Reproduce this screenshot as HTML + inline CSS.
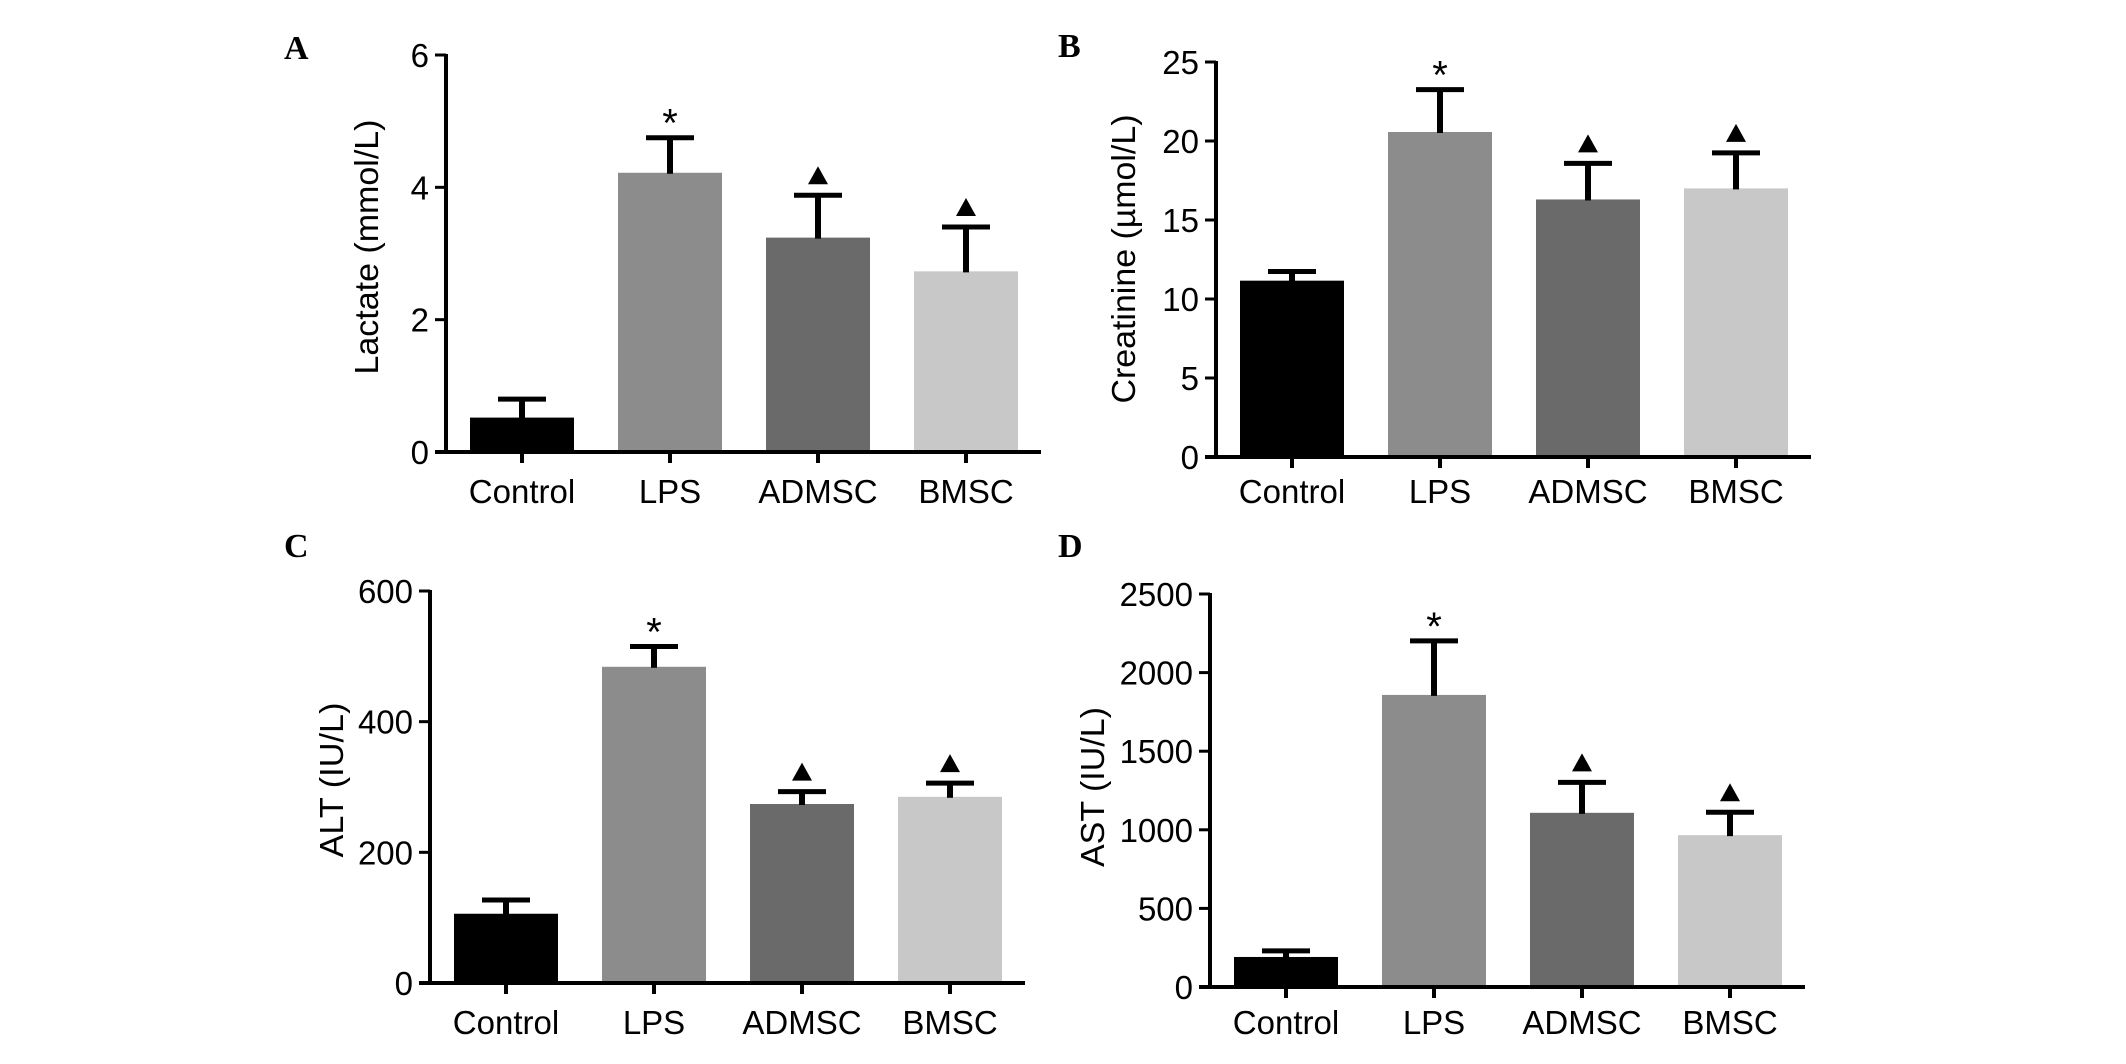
<!DOCTYPE html>
<html><head><meta charset="utf-8"><style>html,body{margin:0;padding:0;background:#fff;overflow:hidden}svg{display:block}</style></head>
<body>
<svg id="fig" xmlns="http://www.w3.org/2000/svg" width="2126" height="1064" viewBox="0 0 2126 1064"></svg>
<script>
const categories = ["Control","LPS","ADMSC","BMSC"];
const lactateMeans = [0.52,4.22,3.24,2.73];
const lactateErr = [0.80,4.75,3.88,3.40];
const lactateTicks = [0,2,4,6];
const creatMeans = [11.16,20.57,16.3,17.0];
const creatErr = [11.74,23.25,18.58,19.25];
const creatTicks = [0,5,10,15,20,25];
const altMeans = [106,484,274,285];
const altErr = [127,515,293,306];
const altTicks = [0,200,400,600];
const astMeans = [191,1858,1108,966];
const astErr = [230,2202,1302,1112];
const astTicks = [0,500,1000,1500,2000,2500];
const markers = ["","*","tri","tri"];
const colors = ["#000000","#8c8c8c","#6a6a6a","#c8c8c8"];

const NS="http://www.w3.org/2000/svg";
const svg=document.getElementById('fig');
function mk(tag,attrs,parent){const e=document.createElementNS(NS,tag);for(const k in attrs)e.setAttribute(k,attrs[k]);(parent||svg).appendChild(e);return e;}

const panels=[
 {id:'a',letter:'A',lx:284,ly:59,ax:446,y0:452,yt:55,max:6,means:lactateMeans,err:lactateErr,ticks:lactateTicks,title:'Lactate (mmol/L)',tx:378,ty:247,tl:255,cy:503},
 {id:'b',letter:'B',lx:1058,ly:57,ax:1216,y0:457,yt:62,max:25,means:creatMeans,err:creatErr,ticks:creatTicks,title:'Creatinine (\u00b5mol/L)',tx:1135,ty:259,tl:289,cy:503},
 {id:'c',letter:'C',lx:284,ly:557,ax:430,y0:983,yt:591,max:600,means:altMeans,err:altErr,ticks:altTicks,title:'ALT (IU/L)',tx:343,ty:780,tl:155,cy:1034},
 {id:'d',letter:'D',lx:1058,ly:557,ax:1210,y0:987,yt:594,max:2500,means:astMeans,err:astErr,ticks:astTicks,title:'AST (IU/L)',tx:1104,ty:787,tl:160,cy:1034}
];

panels.forEach(p=>{
  const g=mk('g',{});
  
  
  const yS=v=>p.y0-(v/p.max)*(p.y0-p.yt);
  const xC=i=>p.ax+76+i*148;
  const L=mk('text',{x:p.lx,y:p.ly,'font-family':'Liberation Serif, serif','font-weight':'bold','font-size':'34'},g);
  L.textContent=p.letter;
  
  
  p.means.forEach((m,i)=>{
    const b=mk('rect',{x:xC(i)-52,y:yS(m),width:104,height:p.y0-yS(m),fill:colors[i]},g);
    
    
    const e=mk('g',{},g);
    
    
    mk('line',{x1:xC(i),x2:xC(i),y1:yS(m)+1,y2:yS(p.err[i]),stroke:'#000','stroke-width':6},e);
    mk('line',{x1:xC(i)-24,x2:xC(i)+24,y1:yS(p.err[i]),y2:yS(p.err[i]),stroke:'#000','stroke-width':5},e);
    const top=yS(p.err[i])-3;
    if(markers[i]==='*'){
      const s=mk('text',{x:xC(i),y:top+2,'text-anchor':'middle','font-family':'Liberation Sans, sans-serif','font-size':'40'},g);
      s.textContent='*';
      
      
    } else if(markers[i]==='tri'){
      const t=mk('polygon',{points:`${xC(i)},${top-26} ${xC(i)-10},${top-8} ${xC(i)+10},${top-8}`,fill:'#000'},g);
      
      
    }
  });
  const ya=mk('line',{x1:p.ax,x2:p.ax,y1:p.yt-1,y2:p.y0+2,stroke:'#000','stroke-width':4},g);
  
  
  const xa=mk('line',{x1:p.ax-11,x2:p.ax+595,y1:p.y0,y2:p.y0,stroke:'#000','stroke-width':4},g);
  
  
  p.ticks.forEach(t=>{
    mk('line',{x1:p.ax-11,x2:p.ax,y1:yS(t),y2:yS(t),stroke:'#000','stroke-width':3},g);
    const tx=mk('text',{x:p.ax-17,y:yS(t)+12,'text-anchor':'end','font-family':'Liberation Sans, sans-serif','font-size':'33'},g);
    tx.textContent=t;
    
    
  });
  categories.forEach((c,i)=>{
    mk('line',{x1:xC(i),x2:xC(i),y1:p.y0,y2:p.y0+11,stroke:'#000','stroke-width':4},g);
    const tx=mk('text',{x:xC(i),y:p.cy,'text-anchor':'middle','font-family':'Liberation Sans, sans-serif','font-size':'33'},g);
    tx.textContent=c;
    
    
  });
  const yt=mk('text',{transform:`translate(${p.tx},${p.ty}) rotate(-90)`,'text-anchor':'middle','font-family':'Liberation Sans, sans-serif','font-size':'33',textLength:p.tl,lengthAdjust:'spacingAndGlyphs'},g);
  yt.textContent=p.title;
  
  
});
</script>
</body></html>
